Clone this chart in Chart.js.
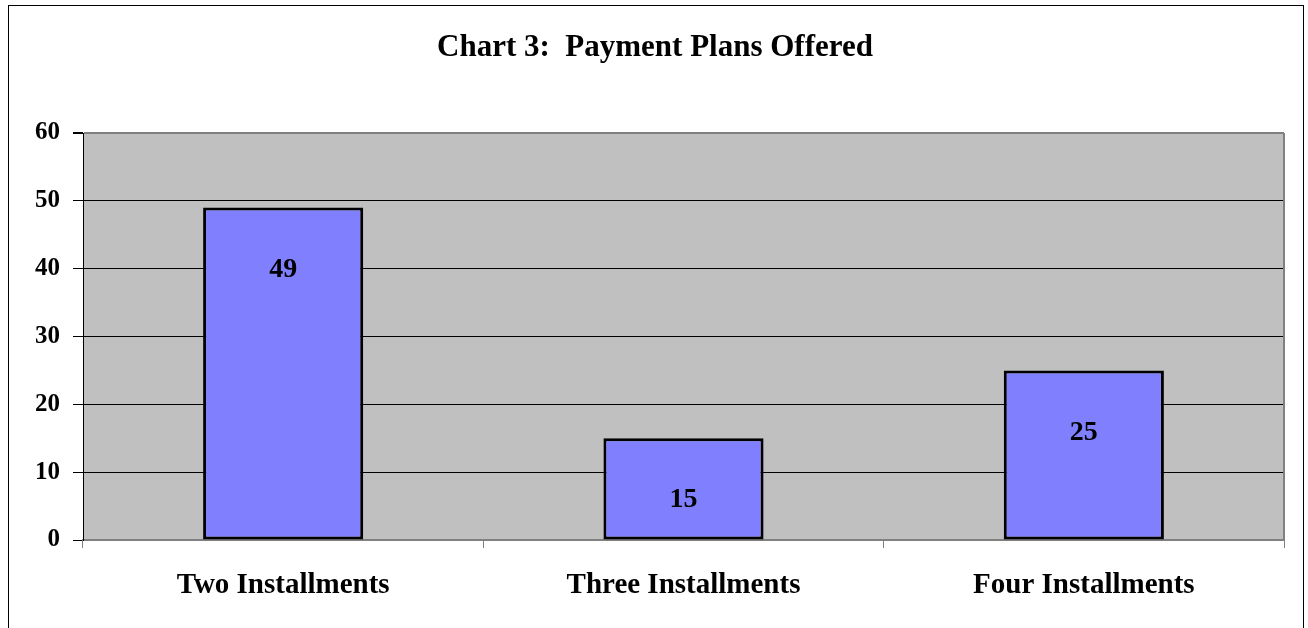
<!DOCTYPE html>
<html>
<head>
<meta charset="utf-8">
<script src="https://cdn.jsdelivr.net/npm/chart.js@4/dist/chart.umd.min.js"></script>
<style>
  html, body { margin: 0; padding: 0; background: #fff; }
  #wrap { width: 1308px; height: 628px; }
</style>
</head>
<body>
<div id="wrap"><canvas id="myChart" width="1308" height="628"></canvas></div>
<script>
// data
var categories = ['Two Installments', 'Three Installments', 'Four Installments'];
var plansOffered = [49, 15, 25];
var yTicks = [0, 10, 20, 30, 40, 50, 60];
var chartTitle = 'Chart 3:  Payment Plans Offered';

var serif = "'Liberation Serif', 'DejaVu Serif', serif";

// white page, outer frame, grey plot area, title
var framePlugin = {
    id: 'frame',
    beforeDraw: function (chart) {
        var c = chart.ctx, a = chart.chartArea;
        c.save();
        c.fillStyle = '#fff';
        c.fillRect(0, 0, chart.width, chart.height);
        c.strokeStyle = '#000';
        c.lineWidth = 1;
        c.strokeRect(8.5, 5.5, 1295, 700);
        c.fillStyle = '#C0C0C0';
        c.fillRect(a.left, a.top, a.right - a.left, a.bottom - a.top);
        c.fillStyle = '#000';
        c.font = 'bold 31px ' + serif;
        c.textAlign = 'center';
        c.textBaseline = 'middle';
        c.fillText(chartTitle, 655, 48);
        c.restore();
    },
    afterDraw: function (chart) {
        var c = chart.ctx, a = chart.chartArea;
        c.save();
        c.strokeStyle = '#808080';
        c.lineWidth = 2;
        c.beginPath();
        c.moveTo(a.right, a.top);
        c.lineTo(a.right, a.bottom);
        c.stroke();
        c.restore();
    }
};

// value labels inside the bars, a bit below the top
var barLabels = {
    id: 'barLabels',
    afterDatasetsDraw: function (chart) {
        var c = chart.ctx;
        var meta = chart.getDatasetMeta(0);
        c.save();
        c.fillStyle = '#000';
        c.font = 'bold 28px ' + serif;
        c.textAlign = 'center';
        c.textBaseline = 'middle';
        meta.data.forEach(function (bar, i) {
            c.fillText(plansOffered[i], bar.x, bar.y + 62);
        });
        c.restore();
    }
};

var ctx = document.getElementById('myChart');
var myBarChart = new Chart(ctx, {
    type: 'bar',
    data: {
        labels: categories,
        datasets: [{
            data: plansOffered,
            backgroundColor: '#8080FF',
            borderColor: '#000',
            borderWidth: 3,
            borderSkipped: false,
            barPercentage: 0.4,
            categoryPercentage: 1
        }]
    },
    options: {
        responsive: false,
        animation: false,
        devicePixelRatio: 1,
        layout: { padding: { left: 0, top: 133, right: 24, bottom: 0 } },
        plugins: {
            legend: { display: false },
            title: { display: false },
            tooltip: { enabled: false }
        },
        scales: {
            x: {
                offset: true,
                grid: {
                    offset: true,
                    drawOnChartArea: false,
                    tickLength: 8,
                    tickColor: '#808080'
                },
                border: { color: '#808080', width: 2 },
                ticks: {
                    color: '#000',
                    padding: 20,
                    maxRotation: 0,
                    font: { family: serif, size: 29, weight: 'bold' }
                },
                afterFit: function (scale) { scale.height = 88; }
            },
            y: {
                min: 0,
                max: 60,
                afterBuildTicks: function (scale) {
                    scale.ticks = yTicks.map(function (v) { return { value: v }; });
                },
                grid: {
                    color: function (c) { return c.tick && c.tick.value === 60 ? '#808080' : '#000'; },
                    lineWidth: function (c) { return c.tick && c.tick.value === 60 ? 2 : 1; },
                    tickColor: '#000',
                    tickLength: 10
                },
                border: { color: '#000', width: 1 },
                ticks: {
                    color: '#000',
                    padding: 13,
                    font: { family: serif, size: 25, weight: 'bold' }
                },
                afterFit: function (scale) { scale.width = 83; }
            }
        }
    },
    plugins: [framePlugin, barLabels]
});
</script>
</body>
</html>
